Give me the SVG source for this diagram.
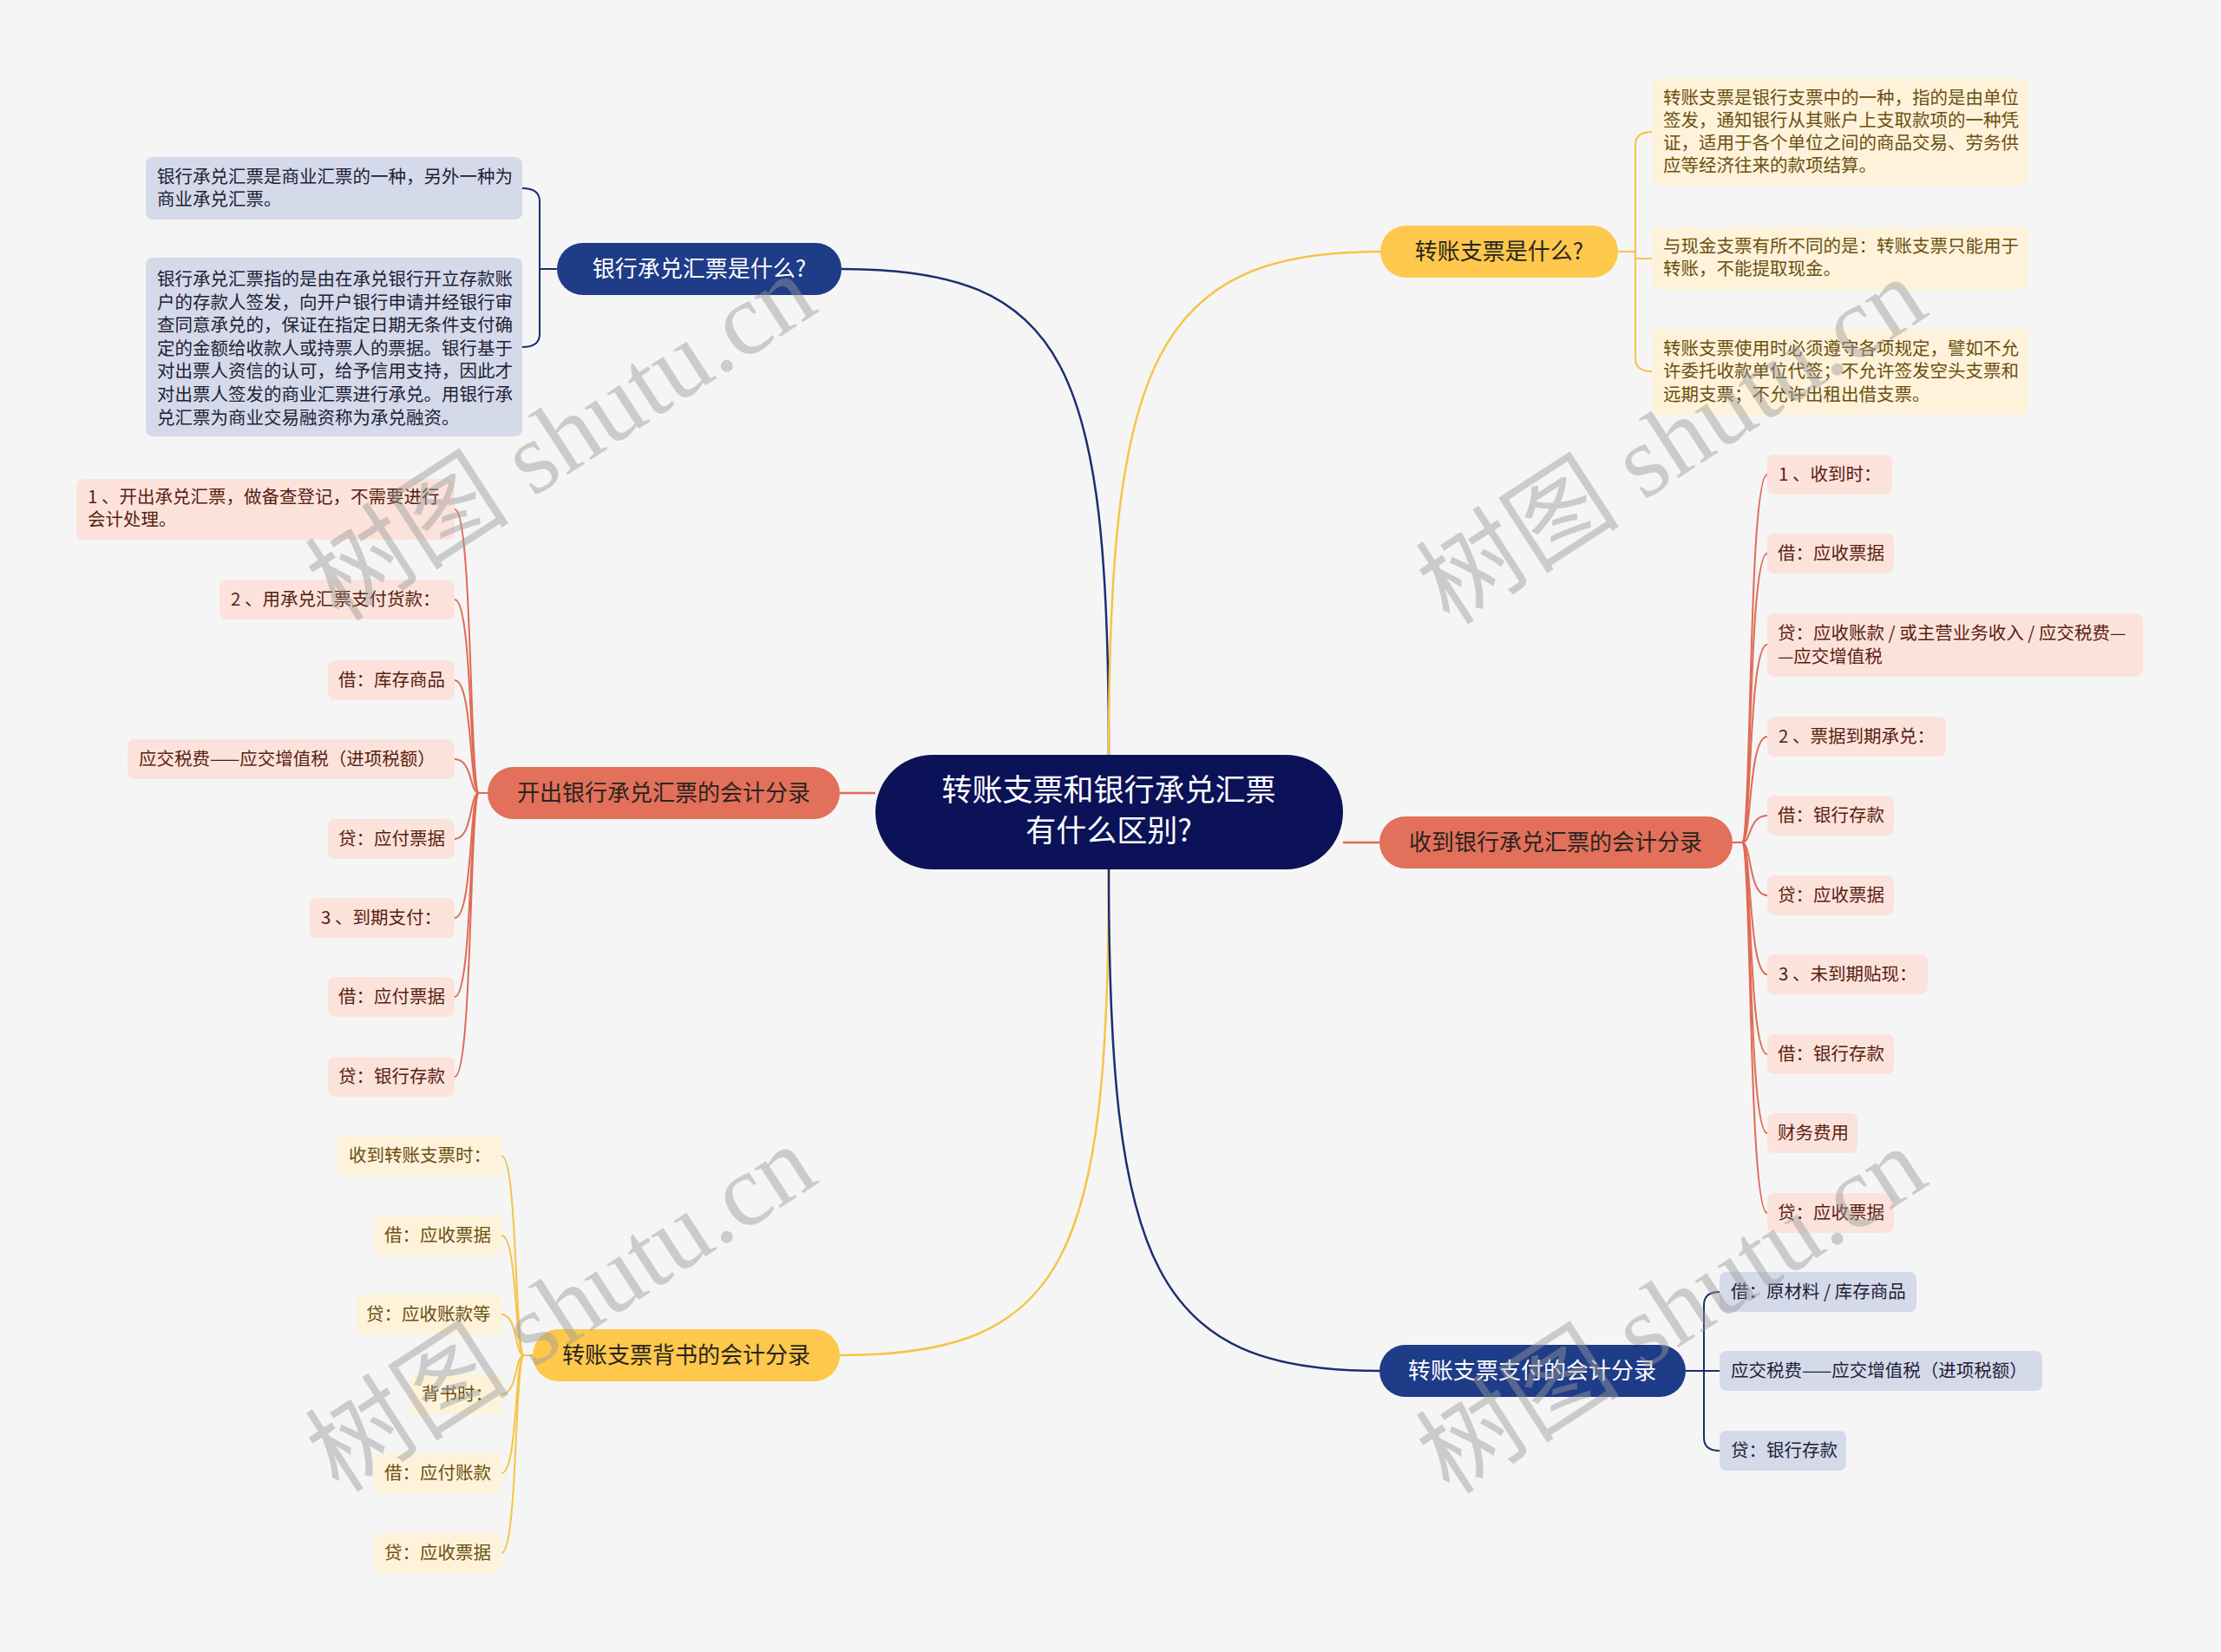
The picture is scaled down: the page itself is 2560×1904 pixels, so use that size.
<svg xmlns="http://www.w3.org/2000/svg" width="2560" height="1904" viewBox="0 0 2560 1904">
<style>
text{font-family:"Noto Sans CJK SC","Noto Sans",sans-serif}
.bg{fill:#f5f5f5}
.root{fill:#0b1257}
.nb{fill:#1f3c88}
.ns{fill:#e2705a}
.ny{fill:#fdc84b}
.lb{fill:#d5daea}
.ls{fill:#fbe3dc}
.ly{fill:#fef3da}
.tr{fill:#ffffff;font-size:35px}
.tnb{fill:#ffffff;font-size:26px}
.tnd{fill:#2a2420;font-size:26px}
.tlb{fill:#1e2235;font-size:20.5px}
.tls{fill:#5a1d10;font-size:20.5px}
.tly{fill:#6b4f10;font-size:20.5px}
.cb{stroke:#1c2e6e;fill:none;stroke-width:2.5}
.cs{stroke:#e06a55;fill:none;stroke-width:2.5}
.cy{stroke:#f6c446;fill:none;stroke-width:2.5}
.thin{stroke-width:2}
.wm{font-family:"Liberation Serif","Noto Sans CJK SC",serif;font-size:118px;fill:#9a9a9a;fill-opacity:0.45}
</style>
<rect class="bg" x="0" y="0" width="2560" height="1904"/>

<g id="connectors">
<path class="cb" d="M1278 870 C1278 420 1230 310 970 310"/>
<path class="cy" d="M1278 870 C1278 420 1330 290 1591 290"/>
<path class="cs" d="M1009 914 H968"/>
<path class="cs" d="M1548 971 H1590"/>
<path class="cy" d="M1278 1002 C1278 1450 1230 1562 968 1562"/>
<path class="cb" d="M1278 1002 C1278 1460 1330 1580 1590 1580"/>

<path class="cb thin" d="M642 310 H622 V232 Q622 217 602 217"/>
<path class="cb thin" d="M642 310 H622 V385 Q622 400 602 400"/>

<path class="cy thin" d="M1865 290 H1885 V167 Q1885 152 1904 152"/>
<path class="cy thin" d="M1865 290 H1885 V298 H1904"/>
<path class="cy thin" d="M1865 290 H1885 V413 Q1885 428 1904 428"/>

<path class="cb thin" d="M1943 1580 H1964 V1504 Q1964 1489 1982 1489"/>
<path class="cb thin" d="M1943 1580 H1982"/>
<path class="cb thin" d="M1943 1580 H1964 V1657 Q1964 1672 1982 1672"/>

<path class="cs thin" d="M562 914 H552 C541 914 545 587 524 587"/>
<path class="cs thin" d="M562 914 H552 C541 914 545 691 524 691"/>
<path class="cs thin" d="M562 914 H552 C541 914 545 784 524 784"/>
<path class="cs thin" d="M562 914 H552 C541 914 545 875 524 875"/>
<path class="cs thin" d="M562 914 H552 C541 914 545 967 524 967"/>
<path class="cs thin" d="M562 914 H552 C541 914 545 1058 524 1058"/>
<path class="cs thin" d="M562 914 H552 C541 914 545 1149 524 1149"/>
<path class="cs thin" d="M562 914 H552 C541 914 545 1241 524 1241"/>

<path class="cs thin" d="M1997 971 H2008 C2019 971 2015 547 2037 547"/>
<path class="cs thin" d="M1997 971 H2008 C2019 971 2015 638 2037 638"/>
<path class="cs thin" d="M1997 971 H2008 C2019 971 2015 743 2037 743"/>
<path class="cs thin" d="M1997 971 H2008 C2019 971 2015 849 2037 849"/>
<path class="cs thin" d="M1997 971 H2008 C2019 971 2015 940 2037 940"/>
<path class="cs thin" d="M1997 971 H2008 C2019 971 2015 1032 2037 1032"/>
<path class="cs thin" d="M1997 971 H2008 C2019 971 2015 1123 2037 1123"/>
<path class="cs thin" d="M1997 971 H2008 C2019 971 2015 1215 2037 1215"/>
<path class="cs thin" d="M1997 971 H2008 C2019 971 2015 1306 2037 1306"/>
<path class="cs thin" d="M1997 971 H2008 C2019 971 2015 1398 2037 1398"/>

<path class="cy thin" d="M614 1562 H604 C593 1562 597 1332 578 1332"/>
<path class="cy thin" d="M614 1562 H604 C593 1562 597 1424 578 1424"/>
<path class="cy thin" d="M614 1562 H604 C593 1562 597 1515 578 1515"/>
<path class="cy thin" d="M614 1562 H604 C593 1562 597 1607 578 1607"/>
<path class="cy thin" d="M614 1562 H604 C593 1562 597 1698 578 1698"/>
<path class="cy thin" d="M614 1562 H604 C593 1562 597 1790 578 1790"/>
</g>

<g id="root">
<rect class="root" x="1009" y="870" width="539" height="132" rx="66"/>
<text class="tr" x="1278" y="923" text-anchor="middle">转账支票和银行承兑汇票</text>
<text class="tr" x="1278" y="970" text-anchor="middle">有什么区别?</text>
</g>

<g id="n1">
<rect class="nb" x="642" y="280" width="328" height="60" rx="30"/>
<text class="tnb" x="806" y="319" text-anchor="middle">银行承兑汇票是什么?</text>
</g>
<g id="n2">
<rect class="ns" x="562" y="884" width="406" height="60" rx="30"/>
<text class="tnd" x="765" y="923" text-anchor="middle">开出银行承兑汇票的会计分录</text>
</g>
<g id="n3">
<rect class="ny" x="614" y="1532" width="354" height="60" rx="30"/>
<text class="tnd" x="791" y="1571" text-anchor="middle">转账支票背书的会计分录</text>
</g>
<g id="n4">
<rect class="ny" x="1591" y="260" width="274" height="60" rx="30"/>
<text class="tnd" x="1728" y="299" text-anchor="middle">转账支票是什么?</text>
</g>
<g id="n5">
<rect class="ns" x="1590" y="941" width="407" height="60" rx="30"/>
<text class="tnd" x="1793" y="980" text-anchor="middle">收到银行承兑汇票的会计分录</text>
</g>
<g id="n6">
<rect class="nb" x="1590" y="1550" width="353" height="60" rx="30"/>
<text class="tnb" x="1766" y="1589" text-anchor="middle">转账支票支付的会计分录</text>
</g>

<g id="n1-a">
<rect class="lb" x="168" y="181" width="434" height="72" rx="8"/>
<text class="tlb" x="181" y="211">银行承兑汇票是商业汇票的一种，另外一种为</text>
<text class="tlb" x="181" y="237">商业承兑汇票。</text>
</g>
<g id="n1-b">
<rect class="lb" x="168" y="297" width="434" height="206" rx="8"/>
<text class="tlb" x="181" y="329">银行承兑汇票指的是由在承兑银行开立存款账</text>
<text class="tlb" x="181" y="355.6">户的存款人签发，向开户银行申请并经银行审</text>
<text class="tlb" x="181" y="382.2">查同意承兑的，保证在指定日期无条件支付确</text>
<text class="tlb" x="181" y="408.8">定的金额给收款人或持票人的票据。银行基于</text>
<text class="tlb" x="181" y="435.4">对出票人资信的认可，给予信用支持，因此才</text>
<text class="tlb" x="181" y="462">对出票人签发的商业汇票进行承兑。用银行承</text>
<text class="tlb" x="181" y="488.6">兑汇票为商业交易融资称为承兑融资。</text>
</g>

<g id="n4-a">
<rect class="ly" x="1904" y="90" width="434" height="124" rx="8"/>
<text class="tly" x="1917" y="120">转账支票是银行支票中的一种，指的是由单位</text>
<text class="tly" x="1917" y="146">签发，通知银行从其账户上支取款项的一种凭</text>
<text class="tly" x="1917" y="172">证，适用于各个单位之间的商品交易、劳务供</text>
<text class="tly" x="1917" y="198">应等经济往来的款项结算。</text>
</g>
<g id="n4-b">
<rect class="ly" x="1904" y="262" width="434" height="72" rx="8"/>
<text class="tly" x="1917" y="291">与现金支票有所不同的是：转账支票只能用于</text>
<text class="tly" x="1917" y="317">转账，不能提取现金。</text>
</g>
<g id="n4-c">
<rect class="ly" x="1904" y="379" width="434" height="99" rx="8"/>
<text class="tly" x="1917" y="409">转账支票使用时必须遵守各项规定，譬如不允</text>
<text class="tly" x="1917" y="435">许委托收款单位代签；不允许签发空头支票和</text>
<text class="tly" x="1917" y="462">远期支票；不允许出租出借支票。</text>
</g>

<g id="n2-1">
<rect class="ls" x="88" y="552" width="436" height="70" rx="8"/>
<text class="tls" x="101" y="580">1 、开出承兑汇票，做备查登记，不需要进行</text>
<text class="tls" x="101" y="606">会计处理。</text>
</g>
<g id="n2-2"><rect class="ls" x="253" y="668" width="271" height="46" rx="8"/><text class="tls" x="266" y="698">2 、用承兑汇票支付货款：</text></g>
<g id="n2-3"><rect class="ls" x="378" y="761" width="146" height="46" rx="8"/><text class="tls" x="390" y="791">借：库存商品</text></g>
<g id="n2-4"><rect class="ls" x="147" y="852" width="377" height="46" rx="8"/><text class="tls" x="160" y="882">应交税费——应交增值税（进项税额）</text></g>
<g id="n2-5"><rect class="ls" x="378" y="944" width="146" height="46" rx="8"/><text class="tls" x="390" y="974">贷：应付票据</text></g>
<g id="n2-6"><rect class="ls" x="357" y="1035" width="167" height="46" rx="8"/><text class="tls" x="370" y="1065">3 、到期支付：</text></g>
<g id="n2-7"><rect class="ls" x="378" y="1126" width="146" height="46" rx="8"/><text class="tls" x="390" y="1156">借：应付票据</text></g>
<g id="n2-8"><rect class="ls" x="378" y="1218" width="146" height="46" rx="8"/><text class="tls" x="390" y="1248">贷：银行存款</text></g>

<g id="n5-1"><rect class="ls" x="2037" y="524" width="144" height="46" rx="8"/><text class="tls" x="2050" y="554">1 、收到时：</text></g>
<g id="n5-2"><rect class="ls" x="2037" y="615" width="146" height="46" rx="8"/><text class="tls" x="2049" y="645">借：应收票据</text></g>
<g id="n5-3">
<rect class="ls" x="2037" y="707" width="433" height="73" rx="8"/>
<text class="tls" x="2049" y="737">贷：应收账款 / 或主营业务收入 / 应交税费—</text>
<text class="tls" x="2049" y="764">—应交增值税</text>
</g>
<g id="n5-4"><rect class="ls" x="2037" y="826" width="206" height="46" rx="8"/><text class="tls" x="2050" y="856">2 、票据到期承兑：</text></g>
<g id="n5-5"><rect class="ls" x="2037" y="917" width="146" height="46" rx="8"/><text class="tls" x="2049" y="947">借：银行存款</text></g>
<g id="n5-6"><rect class="ls" x="2037" y="1009" width="146" height="46" rx="8"/><text class="tls" x="2049" y="1039">贷：应收票据</text></g>
<g id="n5-7"><rect class="ls" x="2037" y="1100" width="185" height="46" rx="8"/><text class="tls" x="2050" y="1130">3 、未到期贴现：</text></g>
<g id="n5-8"><rect class="ls" x="2037" y="1192" width="146" height="46" rx="8"/><text class="tls" x="2049" y="1222">借：银行存款</text></g>
<g id="n5-9"><rect class="ls" x="2037" y="1283" width="104" height="46" rx="8"/><text class="tls" x="2049" y="1313">财务费用</text></g>
<g id="n5-10"><rect class="ls" x="2037" y="1375" width="146" height="46" rx="8"/><text class="tls" x="2049" y="1405">贷：应收票据</text></g>

<g id="n3-1"><rect class="ly" x="389" y="1309" width="189" height="46" rx="8"/><text class="tly" x="402" y="1339">收到转账支票时：</text></g>
<g id="n3-2"><rect class="ly" x="431" y="1401" width="147" height="46" rx="8"/><text class="tly" x="443" y="1431">借：应收票据</text></g>
<g id="n3-3"><rect class="ly" x="410" y="1492" width="168" height="46" rx="8"/><text class="tly" x="422" y="1522">贷：应收账款等</text></g>
<g id="n3-4"><rect class="ly" x="473" y="1584" width="105" height="46" rx="8"/><text class="tly" x="486" y="1614">背书时：</text></g>
<g id="n3-5"><rect class="ly" x="431" y="1675" width="147" height="46" rx="8"/><text class="tly" x="443" y="1705">借：应付账款</text></g>
<g id="n3-6"><rect class="ly" x="431" y="1767" width="147" height="46" rx="8"/><text class="tly" x="443" y="1797">贷：应收票据</text></g>

<g id="n6-1"><rect class="lb" x="1982" y="1466" width="227" height="46" rx="8"/><text class="tlb" x="1995" y="1496">借：原材料 / 库存商品</text></g>
<g id="n6-2"><rect class="lb" x="1982" y="1557" width="372" height="46" rx="8"/><text class="tlb" x="1995" y="1587">应交税费——应交增值税（进项税额）</text></g>
<g id="n6-3"><rect class="lb" x="1982" y="1649" width="146" height="46" rx="8"/><text class="tlb" x="1995" y="1679">贷：银行存款</text></g>

<g id="watermarks">
<text class="wm" transform="translate(648,506) rotate(-33)" x="0" y="38" text-anchor="middle">树图 shutu.cn</text>
<text class="wm" transform="translate(1928,510) rotate(-33)" x="0" y="38" text-anchor="middle">树图 shutu.cn</text>
<text class="wm" transform="translate(648,1510) rotate(-33)" x="0" y="38" text-anchor="middle">树图 shutu.cn</text>
<text class="wm" transform="translate(1928,1512) rotate(-33)" x="0" y="38" text-anchor="middle">树图 shutu.cn</text>
</g>
</svg>
